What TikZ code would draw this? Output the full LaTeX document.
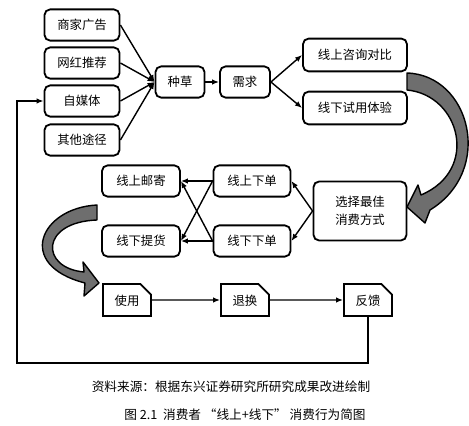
\documentclass[tikz,border=0pt]{standalone}
\usepackage{fontspec}
\setmainfont{Noto Sans CJK SC}
\usepackage{tikz}
\usetikzlibrary{shapes.misc, arrows.meta, positioning}
\definecolor{arrowgray}{HTML}{6E6E6E}
\tikzstyle{rbox} = [rectangle, draw, rounded corners=4pt, line width=1.3pt, minimum height=0.78cm, inner sep=1pt, font=\fontsize{8.8}{10.5}\selectfont]
\tikzstyle{cbox} = [chamfered rectangle, chamfered rectangle corners=north east, chamfered rectangle xsep=4pt, draw, line width=1.3pt, minimum width=1.2cm, minimum height=0.8cm, inner sep=1pt, text depth=-3pt, font=\fontsize{8.8}{10.5}\selectfont]
\tikzstyle{line} = [draw, line width=1pt, -{Latex[length=5pt,width=4pt]}]
\tikzstyle{bigarrow} = [draw, line width=1pt, fill=arrowgray, line join=round]
\tikzstyle{caption} = [font=\fontsize{9}{11}\selectfont]

\begin{document}
\begin{tikzpicture}[x=0.025cm, y=-0.025cm]
			\useasboundingbox (0,0) rectangle (469,426);
			\node [rbox, minimum width=1.875cm] (sj) at (82, 25) {商家广告};
			\node [rbox, minimum width=1.875cm] (wh) at (82, 63) {网红推荐};
			\node [rbox, minimum width=1.875cm] (zm) at (82, 101) {自媒体};
			\node [rbox, minimum width=1.875cm] (qt) at (82, 140) {其他途径};
			\node [rbox, minimum width=1.225cm] (zc) at (180, 82) {种草};
			\node [rbox, minimum width=1.25cm] (xq) at (245, 82) {需求};
			\node [rbox, minimum width=2.6cm, minimum height=0.82cm] (zx) at (355, 55) {线上咨询对比};
			\node [rbox, minimum width=2.6cm, minimum height=0.82cm] (ty) at (355, 108) {线下试用体验};
			\node [rbox, minimum width=2.325cm, minimum height=1.475cm, align=center] (xz) at (360, 211) {选择最佳\\[2pt]消费方式};
			\node [rbox, minimum width=1.925cm] (sd) at (252, 181) {线上下单};
			\node [rbox, minimum width=1.925cm] (xd) at (252, 241) {线下下单};
			\node [rbox, minimum width=1.95cm] (yj) at (141, 181) {线上邮寄};
			\node [rbox, minimum width=1.95cm] (th) at (141, 241) {线下提货};
			\node [cbox] (sy) at (127, 300) {使用};
			\node [cbox] (tz) at (245, 300) {退换};
			\node [cbox] (fk) at (368, 300) {反馈};
			\coordinate (lp) at (17, 363);

			\path [line] (sj.east) -- (zc.west);
			\path [line] (wh.east) -- (zc.west);
			\path [line] (zm.east) -- (zc.west);
			\path [line] (qt.east) -- (zc.west);
			\path [line] (zc) -- (xq);
			\path [line] (xq.east) -- (zx.west);
			\path [line] (xq.east) -- (ty.west);

			\path [line] (xz.west) -- (sd.east);
			\path [line] (xz.west) -- (xd.east);
			\path [line] (sd.west) -- (yj.east);
			\path [line] (sd.west) -- (th.east);
			\path [line] (xd.west) -- (yj.east);
			\path [line] (xd.west) -- (th.east);

			\path [line] (sy) -- (tz);
			\path [line] (tz) -- (fk);
			\path [line] (fk.south) |- (lp) |- (zm.west);

			% big curved arrows
			\path [bigarrow] (407,73) .. controls (470,75) and (495,170) .. (430,210)
				-- (425,223) -- (407,207) -- (418,185) -- (421,195)
				.. controls (480,170) and (460,95) .. (407,90) -- cycle;
			\path [bigarrow] (97,205) .. controls (40,208) and (15,265) .. (85,283)
				-- (84,296) -- (99,283) -- (83,262) -- (84,272)
				.. controls (40,268) and (40,222) .. (97,220) -- cycle;

			\node [caption] (src) at (231, 387) {资料来源：根据东兴证券研究所研究成果改进绘制};
			\node [caption] (fig) at (245, 415) {图 2.1\ \ 消费者 “线上+线下” 消费行为简图};
		\end{tikzpicture}
\end{document}
